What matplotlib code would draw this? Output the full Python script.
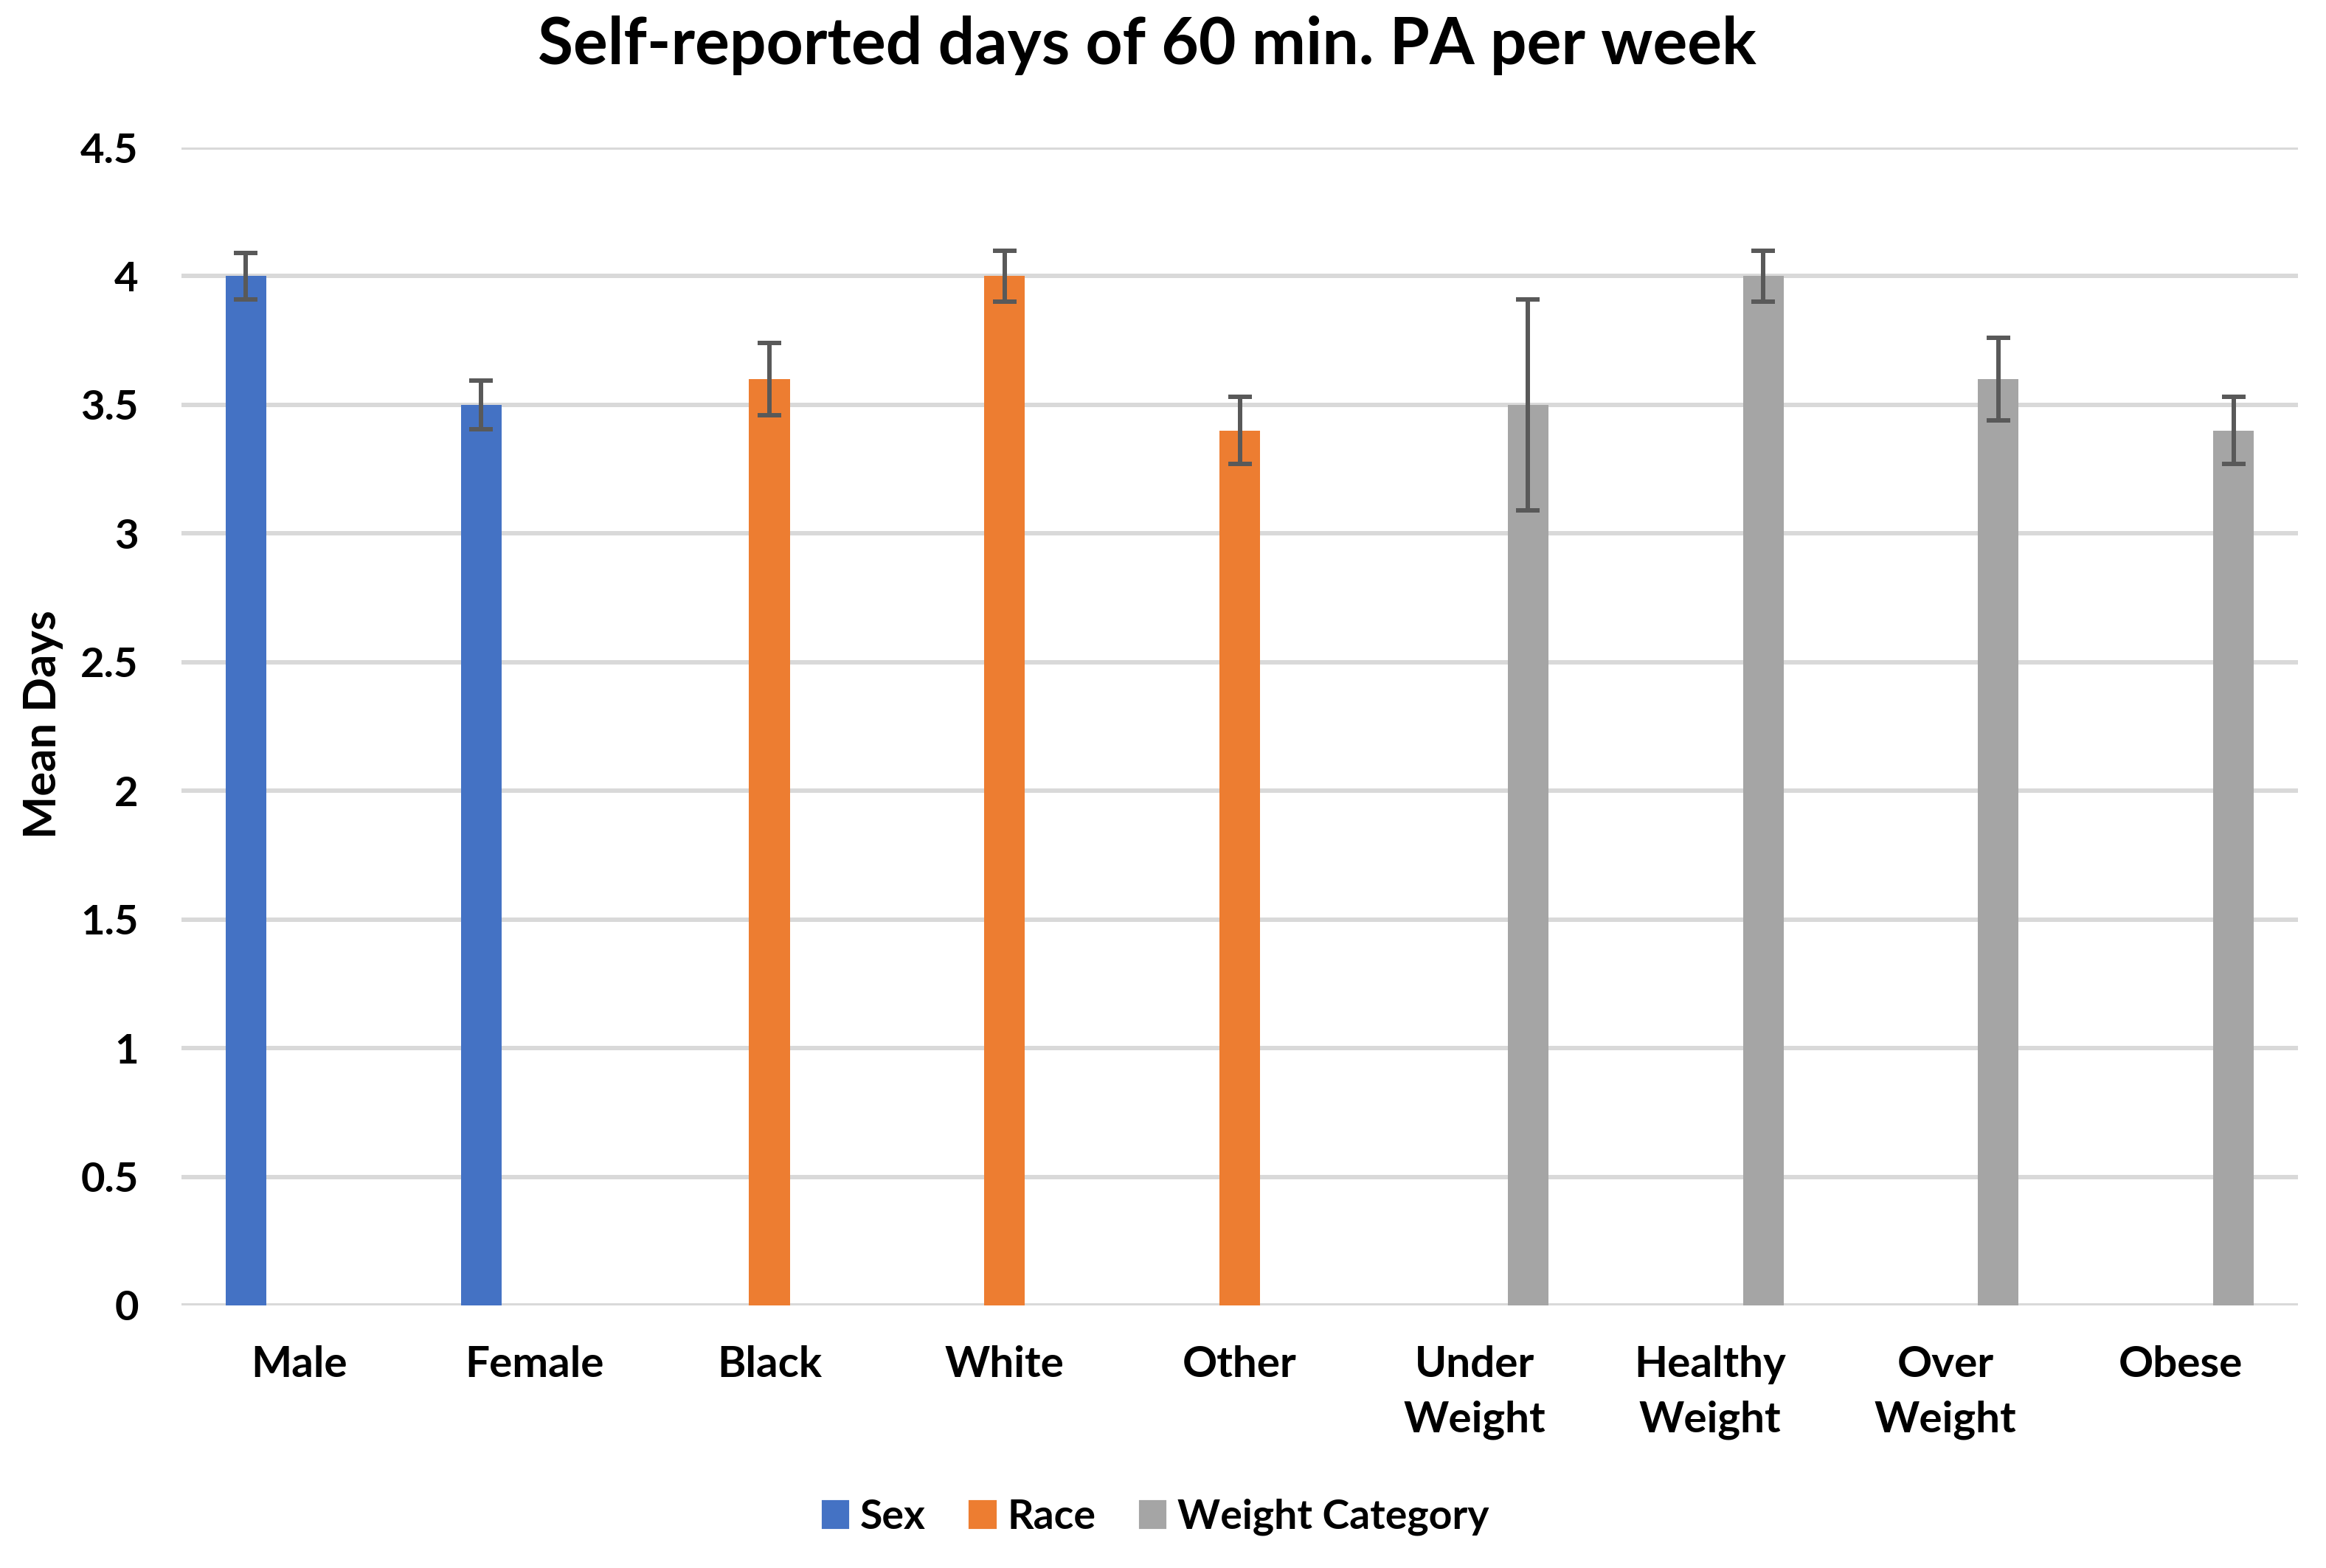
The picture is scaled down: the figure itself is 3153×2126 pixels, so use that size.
import numpy as np
import matplotlib.pyplot as plt
from matplotlib.patches import Patch

# chart values
categories = ["Male", "Female", "Black", "White", "Other",
              "Under\nWeight", "Healthy\nWeight", "Over\nWeight", "Obese"]
series_names = ["Sex", "Race", "Weight Category"]
nan = np.nan
sex_mean = [4.0, 3.5, nan, nan, nan, nan, nan, nan, nan]
sex_err = [0.09, 0.095, nan, nan, nan, nan, nan, nan, nan]
race_mean = [nan, nan, 3.6, 4.0, 3.4, nan, nan, nan, nan]
race_err = [nan, nan, 0.14, 0.1, 0.13, nan, nan, nan, nan]
weight_mean = [nan, nan, nan, nan, nan, 3.5, 4.0, 3.6, 3.4]
weight_err = [nan, nan, nan, nan, nan, 0.41, 0.1, 0.16, 0.13]
yticks = [0, 0.5, 1, 1.5, 2, 2.5, 3, 3.5, 4, 4.5]
ytick_labels = ["0", "0.5", "1", "1.5", "2", "2.5", "3", "3.5", "4", "4.5"]

colors = ["#4472C4", "#ED7D31", "#A5A5A5"]
plt.rcParams['font.family'] = ['Lato', 'DejaVu Sans']

fig = plt.figure(figsize=(3153/300, 2126/300), dpi=300)
ax = fig.add_axes([246/3153, 1 - 1770/2126, (3115-246)/3153, (1770-200)/2126])

x = np.arange(len(categories))
width = 0.173
step = 0.226
means = [sex_mean, race_mean, weight_mean]
errs = [sex_err, race_err, weight_err]
for i in range(3):
    ax.bar(x + (i - 1)*step, means[i], width, yerr=errs[i], color=colors[i],
           zorder=3, error_kw=dict(ecolor="#595959", elinewidth=1.44,
                                   capsize=3.84, capthick=1.44, zorder=4))

ax.set_xlim(-0.5, len(categories) - 0.5)
ax.set_ylim(0, 4.5)
ax.set_yticks(yticks)
ax.set_yticklabels(ytick_labels)
ax.set_xticks(x)
ax.set_xticklabels(categories, linespacing=1.5)
for s in ax.spines.values():
    s.set_visible(False)
ax.grid(axis="y", color="#D9D9D9", linewidth=1.44, zorder=0)
ax.set_axisbelow(True)
ax.tick_params(axis="y", length=0, labelsize=13.5, pad=14)
ax.tick_params(axis="x", length=0, labelsize=14, pad=13)
for lab in ax.get_xticklabels() + ax.get_yticklabels():
    lab.set_fontweight("bold")

ax.set_ylabel("Mean Days", fontsize=14.8, fontweight="bold")
ax.yaxis.set_label_coords(86/3153, 1 - 982/2126, transform=fig.transFigure)

fig.text(0.493, 1 - 62/2126, "Self-reported days of 60 min. PA per week",
         ha="center", va="center", fontsize=21, fontweight="bold")

handles = [Patch(color=c) for c in colors]
fig.legend(handles, series_names, loc="center", bbox_to_anchor=(0.497, 1 - 2057/2126),
           ncol=3, frameon=False, handlelength=0.6, handleheight=0.6,
           handletextpad=0.3, columnspacing=1.1,
           prop=dict(size=13.3, weight="bold"))

fig.savefig("out.png", dpi=300)
